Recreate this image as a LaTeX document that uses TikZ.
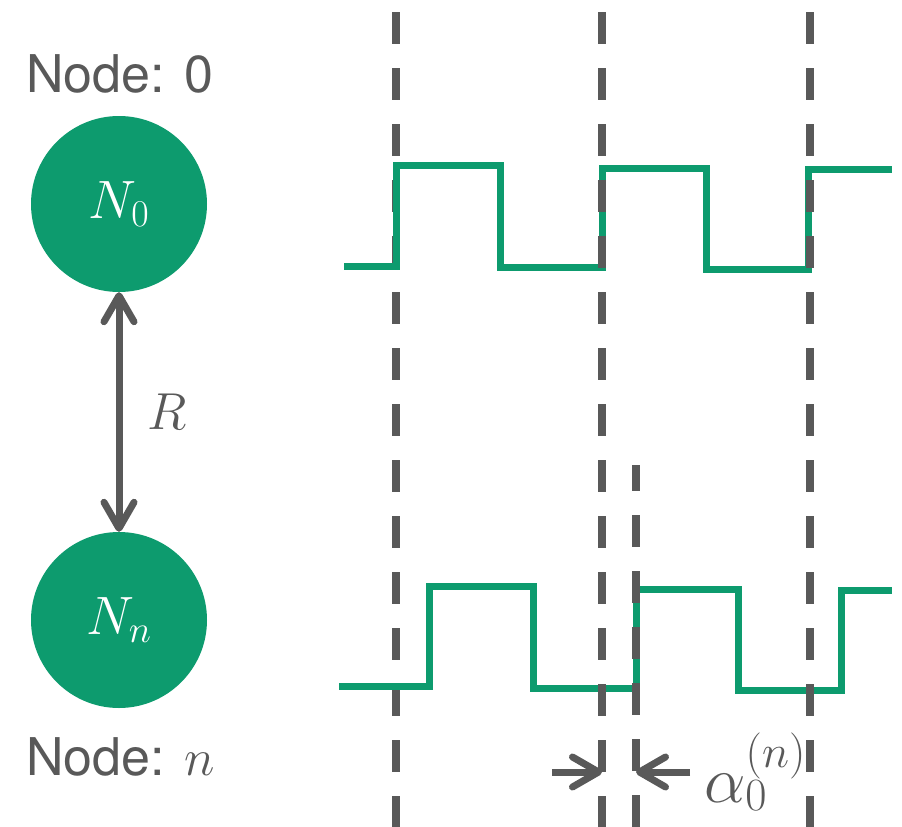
\RequirePackage{fix-cm}
\documentclass[tikz,border=0pt]{standalone}
\usepackage{fontspec}
\newfontfamily\labelfont{TeX Gyre Heros}
\usepackage{tikz}
\usetikzlibrary{arrows.meta}
\definecolor{sigGreen}{RGB}{13,155,110}
\definecolor{darkGrey}{RGB}{89,89,89}

\begin{document}
\begin{tikzpicture}[x=1pt, y=-1pt, >={Straight Barb[length=26pt, width=30pt, line cap=round, line join=round]}]
    \useasboundingbox (0,0) rectangle (902,827);
    \tikzset{
        nodedot/.style={circle, fill=sigGreen, minimum size=176pt, inner sep=0pt, text=white, font=\fontsize{54}{64}\selectfont},
        nodelabel/.style={anchor=base west, inner sep=0pt, text=darkGrey, font=\labelfont\fontsize{52}{62}\selectfont},
        syncline/.style={draw=darkGrey, line width=7.5pt, dash pattern=on 32pt off 24pt},
        signal/.style={draw=sigGreen, line width=7pt},
        pointer/.style={draw=darkGrey, line width=7pt},
    }

    % Nodes
    \node[nodelabel] (lbl0) at (26,92) {Node: 0};
    \node[nodedot] (n0) at (119,204) {$N_0$};
    \node[nodedot] (nn) at (119,620) {$N_n$};
    \node[nodelabel] (lbln) at (26,775) {Node: $n$};

    % Distance between nodes
    \draw[pointer, <->] (n0) -- (nn) node[midway, right=22pt, text=darkGrey, font=\fontsize{52}{62}\selectfont] (rlbl) {$R$};

    % First sync line (below the signals)
    \draw[syncline] (396,12) -- (396,827);

    % Signal of node 0
    \draw[signal] (344,266.3) -- (396,266.3) -- (396,165.5) -- (500,165.5) -- (500,267.5)
        -- (602,267.5) -- (602,168) -- (706,168) -- (706,269) -- (808,269) -- (808,169.5) -- (892,169.5);

    % Signal of node n
    \draw[signal] (339,686.7) -- (429.5,686.7) -- (429.5,586.7) -- (533,586.7) -- (533,688)
        -- (636,688) -- (636,589) -- (738,589) -- (738,690) -- (841,690) -- (841,590) -- (892,590);

    % Other sync lines (above the signals)
    \foreach \xs in {602,810}
        \draw[syncline] (\xs,12) -- (\xs,827);
    \draw[syncline, dash phase=6pt] (636,465) -- (636,827);

    % Offset
    \coordinate (lt) at (602,772);
    \coordinate (la) at (552,772);
    \coordinate (rt) at (636,772);
    \coordinate (ra) at (690,772);
    \draw[pointer, ->] (la) -- (lt);
    \draw[pointer, ->] (ra) -- (rt);
    \node[anchor=base west, inner sep=0pt, text=darkGrey, font=\fontsize{66}{78}\selectfont] (alpha) at (704,802) {$\alpha_0^{(n)}$};
\end{tikzpicture}
\end{document}
